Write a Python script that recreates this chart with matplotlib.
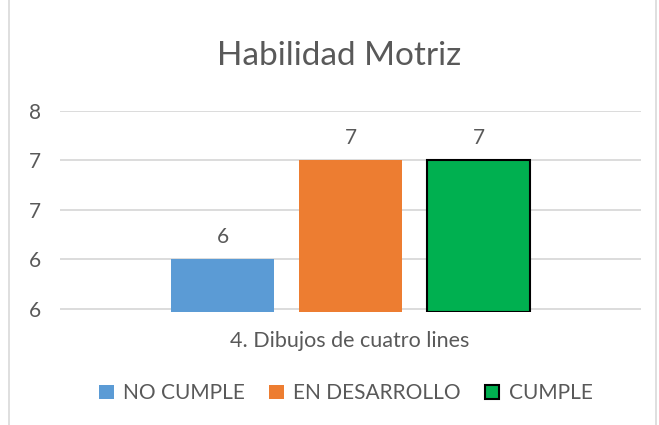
import matplotlib.pyplot as plt
from matplotlib.patches import Rectangle
from matplotlib.ticker import FuncFormatter
from decimal import Decimal, ROUND_HALF_UP

# ---------- DATA ----------
title = "Habilidad Motriz"
category = "4. Dibujos de cuatro lines"
series = ["NO CUMPLE", "EN DESARROLLO", "CUMPLE"]
values = [6, 7, 7]
colors = ["#5B9BD5", "#ED7D31", "#00B050"]
edges = ["none", "none", "black"]

TEXT = "#595959"
GRID = "#D9D9D9"

plt.rcParams["font.family"] = ["Lato", "DejaVu Sans"]

fig = plt.figure(figsize=(6.59, 4.25), dpi=100)
ax = fig.add_axes([0.091, 0.266, 0.882, 0.473])

# chart border (Excel style)
fig.patches.append(Rectangle((0.013, -0.01), 0.983, 1.02, transform=fig.transFigure,
                             fill=False, edgecolor=GRID, linewidth=1.2))

positions = [-1, 0, 1]
for x, v, c, e, name in zip(positions, values, colors, edges, series):
    ax.bar(x, v - 5.47, bottom=5.47, width=0.805, color=c, edgecolor=e,
           linewidth=1.5 if e != "none" else 0, label=name, zorder=3)
    ax.text(x, v + 0.13, str(v), ha="center", va="bottom", fontsize=15, color=TEXT)

ax.set_xlim(-2.27, 2.27)
ax.set_ylim(5.47, 7.5)
ax.set_yticks([5.5, 6, 6.5, 7, 7.5])
ax.yaxis.set_major_formatter(FuncFormatter(
    lambda v, p: str(Decimal(str(v)).quantize(Decimal("1"), rounding=ROUND_HALF_UP))))
ax.grid(axis="y", color=GRID, linewidth=1.3, zorder=0)
ax.set_xticks([])
for s in ax.spines.values():
    s.set_visible(False)
ax.tick_params(axis="y", length=0, pad=14, labelsize=15, labelcolor=TEXT)

fig.text(0.515, 0.868, title, ha="center", va="center", fontsize=24, color=TEXT)
fig.text(0.531, 0.198, category, ha="center", va="center", fontsize=15.5, color=TEXT)

leg = fig.legend(loc="center", bbox_to_anchor=(0.525, 0.075), ncol=3, frameon=False,
                 fontsize=15, handlelength=0.7, handleheight=0.7,
                 columnspacing=1.15, handletextpad=0.45)
for t in leg.get_texts():
    t.set_color(TEXT)

plt.savefig("out.png", dpi=100)
plt.close()
